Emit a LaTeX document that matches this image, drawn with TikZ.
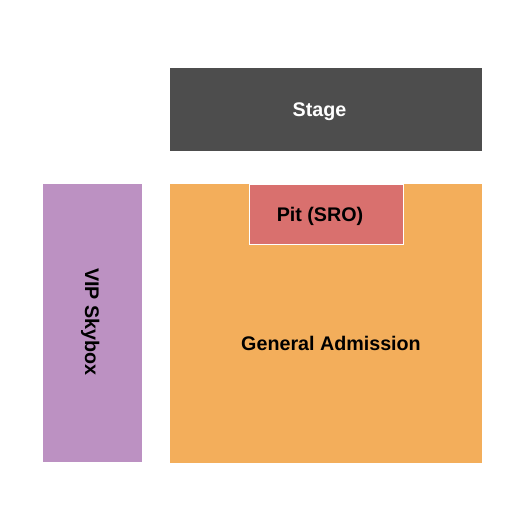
\documentclass[tikz,border=0pt]{standalone}
\usepackage{fontspec}
\setmainfont{Liberation Sans}
\usepackage{xcolor}
\usepackage{tikz}
\definecolor{stagegray}{HTML}{4D4D4D}
\definecolor{gaorange}{HTML}{F3AE5B}
\definecolor{pitred}{HTML}{D9706E}
\definecolor{vippurple}{HTML}{BC91C2}
\tikzset{
  sect/.style={line width=0pt},
  lab/.style={inner sep=0pt, anchor=base, font=\fontsize{19.7}{23}\selectfont\bfseries},
}
\begin{document}
\begin{tikzpicture}[x=1pt,y=-1pt]
  \useasboundingbox (0,0) rectangle (525,525);
  \coordinate (S1) at (170,68);
  \coordinate (S2) at (482,151);
  \coordinate (G1) at (170,184);
  \coordinate (G2) at (482,462.5);
  \coordinate (P1) at (249.5,184);
  \coordinate (P2) at (403.5,244);
  \coordinate (V1) at (43,184);
  \coordinate (V2) at (142,462);
  \fill[stagegray] (S1) rectangle (S2);
  \fill[gaorange] (G1) rectangle (G2);
  \filldraw[fill=pitred, draw=white, line width=0.8pt] (P1) rectangle (P2);
  \fill[vippurple] (V1) rectangle (V2);
  \node[lab, text=white] (stage) at (319.5,116) {Stage};
  \node[lab] (pit) at (320,221.7) {Pit (SRO)};
  \node[lab] (ga) at (331,350.7) {General Admission};
  \node[lab, rotate=-90] (vip) at (85,321.7) {VIP Skybox};
\end{tikzpicture}
\end{document}
